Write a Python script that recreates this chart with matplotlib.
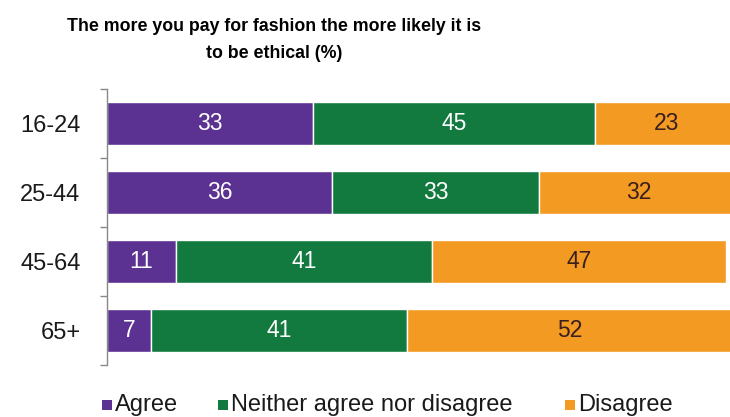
import matplotlib
matplotlib.use("Agg")
import matplotlib.pyplot as plt
from matplotlib.patches import Rectangle

categories = ["16-24", "25-44", "45-64", "65+"]
agree = [33, 36, 11, 7]
neither = [45, 33, 41, 41]
disagree = [23, 32, 47, 52]
series_names = ["Agree", "Neither agree nor disagree", "Disagree"]
colors = ["#5b3192", "#137a3f", "#f39a22"]
text_colors = ["white", "white", "#3a1f1f"]
title = "The more you pay for fashion the more likely it is\nto be ethical (%)"

plt.rcParams['font.family'] = ['Liberation Sans', 'DejaVu Sans']

W, H = 730, 417
fig = plt.figure(figsize=(W/100, H/100), dpi=100)
fig.patch.set_facecolor("white")
ax = fig.add_axes([107/W, 1-365/H, 632/W, (365-89)/H])

y = list(range(len(categories)))
left = [0]*len(categories)
for vals, c, tc in zip([agree, neither, disagree], colors, text_colors):
    ax.barh(y, vals, left=left, height=0.61, color=c, edgecolor="white", linewidth=1.0)
    for yi, v, l in zip(y, vals, left):
        ax.text(l + v/2, yi, str(v), ha="center", va="center", color=tc, fontsize=16.5)
    left = [a+b for a, b in zip(left, vals)]

ax.set_xlim(0, 101)
ax.set_ylim(len(categories)-0.5, -0.5)
ax.set_yticks(y)
ax.set_yticklabels(categories, fontsize=17, color="#1a1a1a")
ax.tick_params(axis="y", which="major", length=0, pad=19)
ax.set_yticks([i-0.5 for i in range(len(categories)+1)], minor=True)
ax.tick_params(axis="y", which="minor", length=5, color="#888888", width=1)
ax.set_xticks([])
for s in ["top", "right", "bottom"]:
    ax.spines[s].set_visible(False)
ax.spines["left"].set_color("#888888")
ax.spines["left"].set_linewidth(1)
ax.set_facecolor("none")

fig.text(274/W, 1-40/H, title, ha="center", va="center", fontsize=12.8,
         fontweight="bold", linespacing=1.8)

# legend (manual layout)
sq_x = [102, 218, 565]
for name, c, x0 in zip(series_names, colors, sq_x):
    fig.patches.append(Rectangle((x0/W, 1-410/H), 10/W, 10/H, transform=fig.transFigure,
                                 facecolor=c, edgecolor="none"))
    fig.text((x0+13)/W, 1-411/H, name, ha="left", va="baseline", fontsize=17,
             color="#1a1a1a")

fig.savefig("out.png", dpi=100)
